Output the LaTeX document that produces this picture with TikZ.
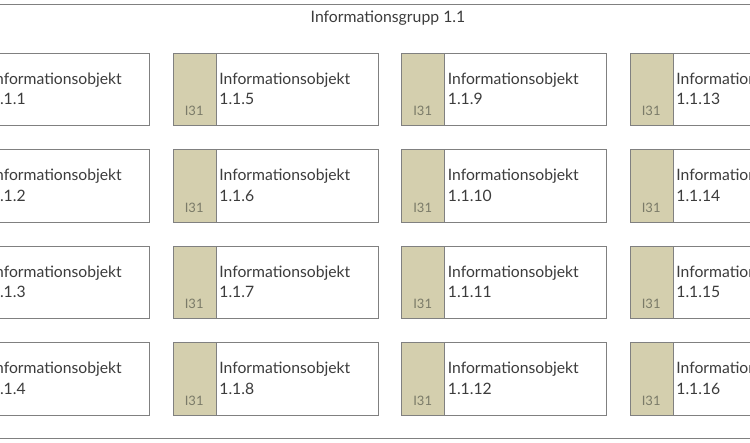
\documentclass[tikz,border=0pt]{standalone}
\usepackage{fontspec}
\setmainfont{Lato}
\definecolor{strip}{HTML}{D4CFAE}
\definecolor{edge}{HTML}{808080}
\definecolor{txt}{HTML}{3C3C3C}
\definecolor{lbl}{HTML}{7A7A68}
\begin{document}
\begin{tikzpicture}[x=1pt,y=-1pt,
  obox/.style={draw=edge,line width=1.2pt,fill=white,rectangle,minimum width=205pt,minimum height=72.5pt,anchor=north west,inner sep=0pt},
  sbox/.style={draw=edge,line width=1.2pt,fill=strip,rectangle,minimum width=43pt,minimum height=72.5pt,anchor=north west,inner sep=0pt},
  otext/.style={anchor=base west,inner sep=0pt,font=\fontsize{15.7}{20.7}\selectfont,text=txt,align=left},
  slabel/.style={anchor=base,inner sep=0pt,font=\fontsize{13}{15}\selectfont,text=lbl},
  gtitle/.style={anchor=base,inner sep=0pt,font=\fontsize{15.8}{18}\selectfont,text=txt}]
\useasboundingbox (0,0) rectangle (750,443);
\node[draw=edge,line width=1.2pt,rectangle,anchor=north west,minimum width=900pt,minimum height=434pt,inner sep=0pt] (grp) at (-75,4) {};
\node[gtitle] (title) at (388,22.6) {Informationsgrupp 1.1};
\foreach \c in {0,1,2,3}{
  \foreach \r in {0,1,2,3}{
    \pgfmathsetmacro{\bx}{-55.8+228.5*\c}
    \pgfmathsetmacro{\by}{52.7+96.5*\r}
    \pgfmathtruncatemacro{\n}{\c*4+\r+1}
    \node[obox] (b\n) at (\bx,\by) {};
    \node[sbox] (s\n) at (\bx,\by) {};
    \node[slabel] (l\n) at (\bx+21.5,\by+63.3) {I31};
    \node[otext] (t\n) at (\bx+46.5,\by+52.3) {Informationsobjekt\\1.1.\n};
  }
}
\end{tikzpicture}
\end{document}
